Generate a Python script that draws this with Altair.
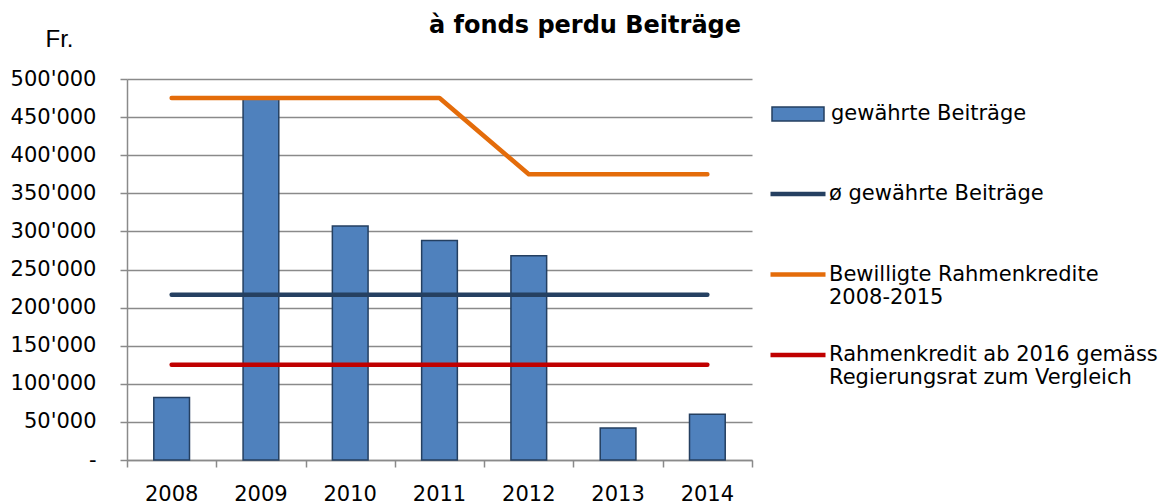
import altair as alt
import pandas as pd

years = ["2008", "2009", "2010", "2011", "2012", "2013", "2014"]
beitraege = [82000, 474000, 307000, 288000, 268000, 42000, 60000]
durchschnitt = [217000, 217000, 217000, 217000, 217000, 217000, 217000]
rahmenkredite = [475000, 475000, 475000, 475000, 375000, 375000, 375000]
regierungsrat = [125000, 125000, 125000, 125000, 125000, 125000, 125000]

bar_name = "gewährte Beiträge"
line_names = [
    "ø gewährte Beiträge|",
    "Bewilligte Rahmenkredite|2008-2015",
    "Rahmenkredit ab 2016 gemäss|Regierungsrat zum Vergleich",
]
line_values = [durchschnitt, rahmenkredite, regierungsrat]
line_colors = ["#254061", "#e46c0a", "#c00000"]

y_ticks = [0, 50000, 100000, 150000, 200000, 250000, 300000, 350000, 400000, 450000, 500000]

bars_df = pd.DataFrame({"Jahr": years, "Wert": beitraege, "Serie": bar_name})
slots_df = pd.DataFrame({"Slot": years})
lines_df = pd.DataFrame(
    [
        {"Jahr": y, "Wert": v, "Serie": name, "ord": i}
        for name, vals in zip(line_names, line_values)
        for i, (y, v) in enumerate(zip(years, vals))
    ]
)

GRID = "#8a8a8a"
LABEL_FONT = "DejaVu Sans"

y_axis = alt.Axis(
    values=y_ticks,
    tickCount=len(y_ticks),
    labelOverlap=False,
    title="Fr.",
    titleAngle=0,
    titleX=-82,
    titleY=-33,
    titleAlign="left",
    titleBaseline="alphabetic",
    titleFont="Liberation Sans",
    titleFontSize=24,
    titleFontWeight="normal",
    titleColor="black",
    labelExpr="datum.value == 0 ? '-\u00a0\u00a0' : replace(format(datum.value, ','), regexp(',', 'g'), \"'\")",
    labelFont=LABEL_FONT,
    labelFontSize=21,
    labelColor="black",
    labelPadding=24,
    tickSize=7,
    tickColor=GRID,
    tickWidth=1.5,
    grid=True,
    gridColor=GRID,
    gridWidth=1.5,
    domainColor=GRID,
    domainWidth=1.5,
)
y_scale = alt.Scale(domain=[0, 500000], nice=False)

fill_legend = alt.Legend(
    title=None,
    orient="none",
    legendX=644,
    legendY=8,
    symbolType="M-1,-0.27H1V0.27H-1Z",
    symbolSize=2704,
    symbolStrokeColor="#243f60",
    symbolStrokeWidth=1.5,
    labelFont=LABEL_FONT,
    labelFontSize=21,
    labelColor="black",
    labelOffset=6,
    labelLimit=600,
)

stroke_legend = alt.Legend(
    title=None,
    orient="none",
    legendX=641,
    legendY=85,
    symbolType="stroke",
    symbolSize=3025,
    symbolStrokeWidth=4.5,
    labelExpr="split(datum.label, '|')",
    labelBaseline="middle",
    labelFont=LABEL_FONT,
    labelFontSize=21,
    labelColor="black",
    labelOffset=1,
    labelLimit=600,
    rowPadding=17.5,
)

bars = (
    alt.Chart(bars_df)
    .mark_bar(stroke="#243f60", strokeWidth=1.5)
    .encode(
        x=alt.X(
            "Jahr:N",
            scale=alt.Scale(type="band", paddingInner=0.6, paddingOuter=0.3),
            axis=alt.Axis(
                title=None,
                orient="bottom",
                labelAngle=0,
                labelFont=LABEL_FONT,
                labelFontSize=21,
                labelColor="black",
                labelPadding=23,
                ticks=False,
                domainColor=GRID,
                domainWidth=1.5,
                grid=False,
            ),
        ),
        y=alt.Y("Wert:Q", scale=y_scale, axis=y_axis),
        fill=alt.Fill(
            "Serie:N",
            scale=alt.Scale(domain=[bar_name], range=["#4f81bd"]),
            legend=fill_legend,
        ),
    )
)

slot_ticks = (
    alt.Chart(slots_df)
    .mark_point(opacity=0)
    .encode(
        x=alt.X(
            "Slot:N",
            scale=alt.Scale(type="band", paddingInner=0, paddingOuter=0),
            axis=alt.Axis(
                title=None,
                orient="bottom",
                labels=False,
                tickBand="extent",
                tickSize=7,
                tickColor=GRID,
                tickWidth=1.5,
                domain=False,
                grid=False,
            ),
        ),
        y=alt.value(0),
    )
)

lines = (
    alt.Chart(lines_df)
    .mark_line(strokeWidth=4.5, strokeCap="round", strokeJoin="round")
    .encode(
        x=alt.X("Jahr:N", axis=None),
        y=alt.Y("Wert:Q", scale=y_scale, axis=y_axis),
        order="ord:Q",
        detail="Serie:N",
        stroke=alt.Stroke(
            "Serie:N",
            scale=alt.Scale(domain=line_names, range=line_colors),
            legend=stroke_legend,
        ),
    )
)

chart = (
    alt.layer(bars, lines, slot_ticks)
    .resolve_scale(x="independent", fill="independent", stroke="independent")
    .properties(
        width=625,
        height=381,
        autosize=alt.AutoSizeParams(type="none"),
        padding={"left": 127, "top": 79, "right": 415, "bottom": 44},
        background="white",
        title=alt.TitleParams(
            "à fonds perdu Beiträge",
            font="DejaVu Sans",
            fontSize=24,
            fontWeight="bold",
            color="black",
            anchor="start",
            frame="group",
            dx=302,
            dy=30,
            baseline="alphabetic",
            offset=0,
        ),
    )
    .configure_view(stroke=None)
)

chart.save("out.html", embed_options={"renderer": "svg", "actions": False})
